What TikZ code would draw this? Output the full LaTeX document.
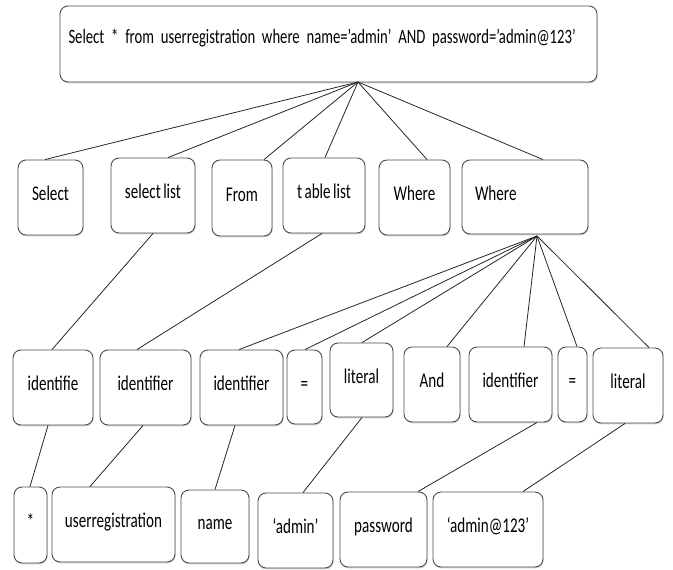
\documentclass[tikz,border=0pt]{standalone}
\usepackage{fontspec}
\setmainfont{Carlito}[FakeStretch=0.72, WordSpace=0.7]
\usetikzlibrary{shadows}

\begin{document}
\begin{tikzpicture}[x=1pt, y=-1pt,
    pbox/.style={draw=black!70, line width=0.9pt, rounded corners=8pt, fill=white,
      drop shadow={shadow xshift=0.6pt, shadow yshift=-1.4pt, fill=black!35},
      inner sep=0pt, text height=14pt, text depth=8pt,
      font=\fontsize{21}{25}\selectfont},
    link/.style={draw=black!85, line width=0.8pt}]
  \useasboundingbox (0,0) rectangle (673,570);

  % the query
  \node[pbox, minimum width=537pt, minimum height=76pt, text depth=16pt,
    font=\fontsize{20.4}{24}\selectfont, text width=520pt, align=left] (qry) at (328.5,44)
    {Select * from userregistration where name=’admin’ AND password=’admin@123’};
  \coordinate (qhub) at (358,82);

  % clauses
  \node[pbox, minimum width=65pt, minimum height=75pt] (sel) at (50.5,197.5) {Select};
  \node[pbox, minimum width=84pt, minimum height=75pt] (slist) at (153,195.5) {select list};
  \node[pbox, minimum width=60pt, minimum height=76pt] (frm) at (242,198) {From};
  \node[pbox, minimum width=82pt, minimum height=75pt] (tlist) at (324,195.5) {t able list};
  \node[pbox, minimum width=71pt, minimum height=75pt] (whr) at (414.5,197.5) {Where};
  \node[pbox, minimum width=126pt, minimum height=74pt, text width=100pt,
    align=left] (whrc) at (525,197) {Where};
  \coordinate (whub) at (537,236);

  % tokens
  \node[pbox, minimum width=80pt, minimum height=75pt] (idfa) at (53,387.5) {identifie};
  \node[pbox, minimum width=91pt, minimum height=75pt] (idfb) at (145.5,387.5) {identifier};
  \node[pbox, minimum width=83pt, minimum height=75pt] (idfc) at (241.5,387.5) {identifier};
  \node[pbox, minimum width=35pt, minimum height=74pt] (eqa) at (304.5,387) {=};
  \node[pbox, minimum width=63pt, minimum height=74pt] (lita) at (361.5,380) {literal};
  \node[pbox, minimum width=56pt, minimum height=75pt] (andw) at (432,384.5) {And};
  \node[pbox, minimum width=83pt, minimum height=75pt] (idfd) at (510.5,384.5) {identifier};
  \node[pbox, minimum width=29pt, minimum height=75pt] (eqb) at (572.5,384.5) {=};
  \node[pbox, minimum width=70pt, minimum height=75pt] (litb) at (628,385.5) {literal};

  % values
  \node[pbox, minimum width=33pt, minimum height=76pt] (star) at (30.5,525) {*};
  \node[pbox, minimum width=123pt, minimum height=75pt] (ureg) at (113.5,524.5) {userregistration};
  \node[pbox, minimum width=68pt, minimum height=73pt] (nm) at (215,526.5) {name};
  \node[pbox, minimum width=75pt, minimum height=75pt] (adm) at (295.5,530.5) {‘admin’};
  \node[pbox, minimum width=87pt, minimum height=75pt] (pwd) at (383.5,529.5) {password};
  \node[pbox, minimum width=110pt, minimum height=75pt] (admn) at (488,529.5) {‘admin@123’};

  % query -> clauses
  \draw[link] (qhub) -- ([xshift=-5.5pt]sel.north);
  \draw[link] (qhub) -- ([xshift=15pt]slist.north);
  \draw[link] (qhub) -- ([xshift=22pt]frm.north);
  \draw[link] (qhub) -- ([xshift=1pt]tlist.north);
  \draw[link] (qhub) -- ([xshift=12.5pt]whr.north);
  \draw[link] (qhub) -- ([xshift=18pt]whrc.north);

  % clauses -> tokens
  \draw[link] (slist.south) -- ([xshift=-1pt]idfa.north);
  \draw[link] ([xshift=-2pt]tlist.south) -- ([xshift=-8.5pt]idfb.north);
  \draw[link] (whub) -- ([xshift=-2.5pt]idfc.north);
  \draw[link] (whub) -- ([xshift=0.5pt]eqa.north);
  \draw[link] (whub) -- ([xshift=0.5pt]lita.north);
  \draw[link] (whub) -- ([xshift=15pt]andw.north);
  \draw[link] (whub) -- ([xshift=13.5pt]idfd.north);
  \draw[link] (whub) -- ([xshift=4.5pt]eqb.north);
  \draw[link] (whub) -- ([xshift=21pt]litb.north);

  % tokens -> values
  \draw[link] ([xshift=-5pt]idfa.south) -- ([xshift=-0.5pt]star.north);
  \draw[link] ([xshift=-2.5pt]idfb.south) -- ([xshift=-23.5pt]ureg.north);
  \draw[link] ([xshift=-6.5pt]idfc.south) -- (nm.north);
  \draw[link] ([xshift=0.5pt]lita.south) -- ([xshift=7.5pt]adm.north);
  \draw[link] ([xshift=26.5pt]idfd.south) -- ([xshift=34.5pt]pwd.north);
  \draw[link] ([xshift=-3pt]litb.south) -- ([xshift=35pt]admn.north);
\end{tikzpicture}
\end{document}
